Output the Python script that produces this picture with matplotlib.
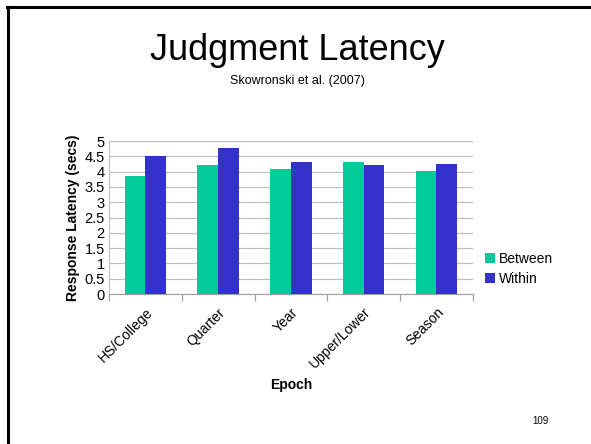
import matplotlib.pyplot as plt
import numpy as np
from matplotlib.lines import Line2D

plt.rcParams["font.family"] = ["Liberation Sans", "DejaVu Sans"]

epochs = ["HS/College", "Quarter", "Year", "Upper/Lower", "Season"]
between = [3.87, 4.22, 4.08, 4.32, 4.02]
within = [4.52, 4.76, 4.30, 4.23, 4.25]
yticks = [0, 0.5, 1, 1.5, 2, 2.5, 3, 3.5, 4, 4.5, 5]

green = "#00CC99"
blue = "#3333CC"

fig = plt.figure(figsize=(5.91, 4.44), dpi=100)

# slide frame (only top and left edges visible)
fig.add_artist(Line2D([0.0125, 1.0], [0.9842, 0.9842], color="black", lw=2.2,
                      transform=fig.transFigure))
fig.add_artist(Line2D([0.0135, 0.0135], [0.0, 0.9842], color="black", lw=2.2,
                      transform=fig.transFigure))

fig.text(0.504, 0.887, "Judgment Latency", ha="center", va="center", fontsize=26)
fig.text(0.504, 0.818, "Skowronski et al. (2007)", ha="center", va="center", fontsize=9)
fig.text(0.915, 0.052, "109", ha="center", va="center", fontsize=7)

ax = fig.add_axes([0.1844, 0.3378, 0.6157, 0.3446])
x = np.arange(len(epochs))
w = 0.285
ax.bar(x - w / 2, between, w, color=green, label="Between", zorder=3)
ax.bar(x + w / 2, within, w, color=blue, label="Within", zorder=3)

ax.set_xlim(-0.5, len(epochs) - 0.5)
ax.set_ylim(0, 5)
ax.set_yticks(yticks)
ax.set_yticklabels([f"{t:g}" for t in yticks], fontsize=10.5)
ax.yaxis.grid(True, color="#BFBFBF", lw=0.9, zorder=0)
ax.tick_params(axis="y", length=0, pad=3)

ax.set_xticks(x)
ax.set_xticklabels(epochs, rotation=45, ha="right", rotation_mode="anchor", fontsize=10)
ax.set_xticks(np.arange(len(epochs) + 1) - 0.5, minor=True)
ax.tick_params(axis="x", which="major", length=0, pad=8)
ax.tick_params(axis="x", which="minor", length=5, color="#A0A0A0", width=0.9)

for s in ["top", "right"]:
    ax.spines[s].set_visible(False)
ax.spines["left"].set_color("#BFBFBF")
ax.spines["bottom"].set_color("#A0A0A0")

ax.set_ylabel("Response Latency (secs)", fontsize=10, fontweight="bold", labelpad=3)
ax.set_xlabel("Epoch", fontsize=10, fontweight="bold", labelpad=5)

ax.legend(loc="center left", bbox_to_anchor=(1.0, 0.165), frameon=False, fontsize=10,
          handlelength=0.7, handleheight=0.7, handletextpad=0.3, labelspacing=0.45,
          borderaxespad=0.5)

fig.savefig("out.png", dpi=100)
